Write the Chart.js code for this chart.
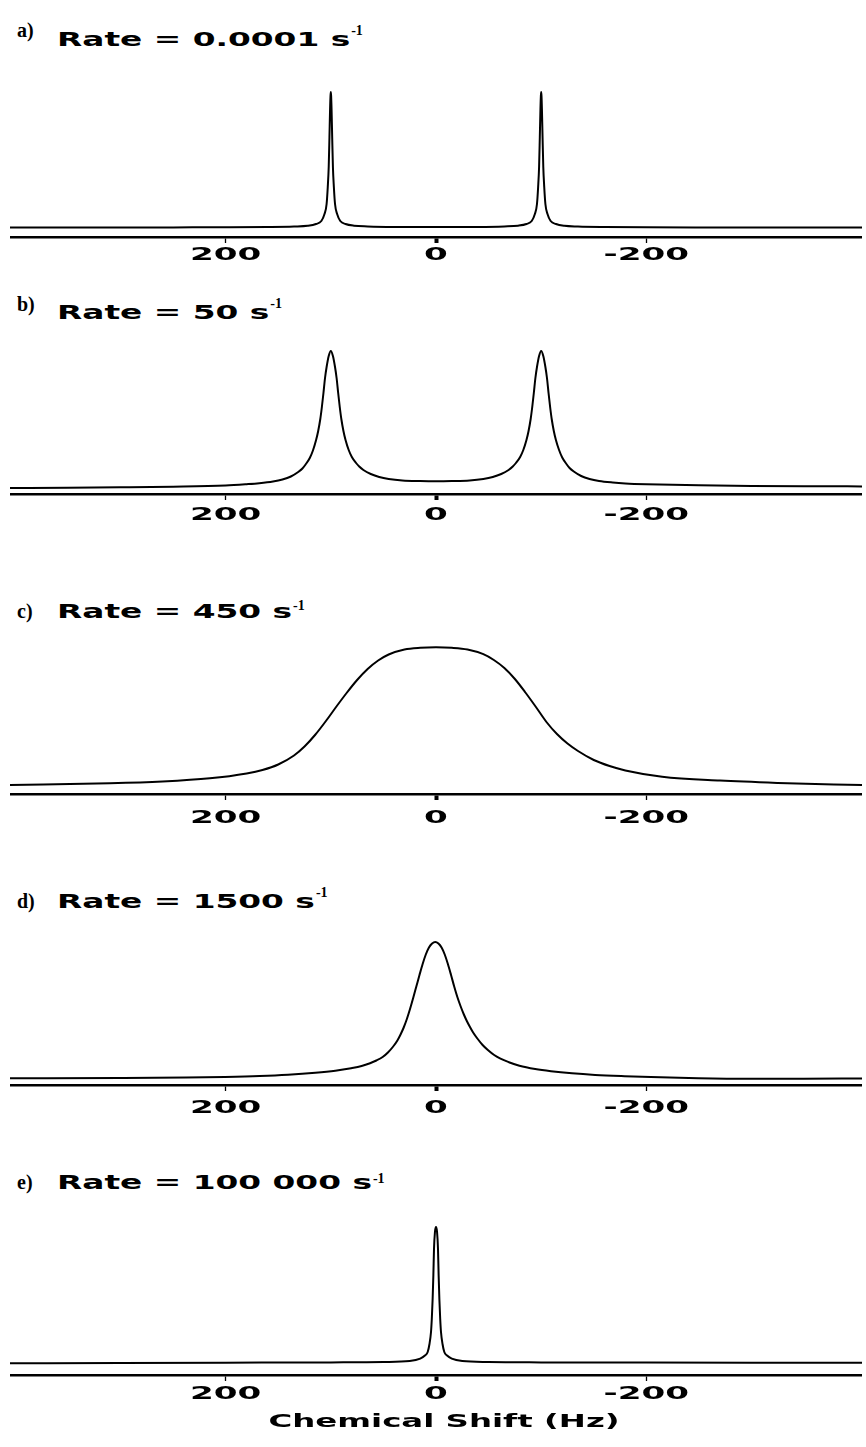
<!DOCTYPE html>
<html><head><meta charset="utf-8">
<script src="https://cdn.jsdelivr.net/npm/chart.js@4.4.1/dist/chart.umd.min.js"></script>
<style>
html,body{margin:0;padding:0;background:#fff;}
#page{position:relative;width:866px;height:1447px;overflow:hidden;background:#fff;}
canvas{position:absolute;}
.t{position:absolute;white-space:nowrap;color:#000;line-height:1;top:0;}
.letter{font-family:"Liberation Serif",serif;font-size:20px;font-weight:bold;}
.rate{font-family:"DejaVu Sans",sans-serif;font-size:20px;font-weight:bold;transform-origin:0 0;}
.sup{font-family:"Liberation Serif",serif;font-size:14px;font-weight:bold;}
</style></head><body><div id="page"></div>
<script>
// ---------- data ----------
const tickValues = [200, 0, -200];
const tickLabels = ['200', '0', '-200'];
const panelLetters = ['a)', 'b)', 'c)', 'd)', 'e)'];
const rateLabels = ['Rate = 0.0001 s', 'Rate = 50 s', 'Rate = 450 s', 'Rate = 1500 s', 'Rate = 100 000 s'];
const rateExponent = '-1';
const axisTitle = 'Chemical Shift (Hz)';

const shiftA = [405, 350, 300, 250, 200, 160, 135, 122, 114, 109, 106, 104, 102.9, 102, 101.3, 100.7, 100.3, 100, 99.7, 99.3, 98.7, 98, 97.1, 96, 94, 91, 86, 78, 65, 40, 0, -40, -65, -78, -86, -91, -94, -96, -97.1, -98, -98.7, -99.3, -99.7, -100, -100.3, -100.7, -101.3, -102, -102.9, -104, -106, -109, -114, -122, -135, -160, -200, -250, -300, -350, -405];
const signalA = [9.5, 9.5, 9.5, 9.6, 9.7, 10, 10.5, 11.2, 13, 16, 23, 33, 50, 70, 100, 128, 141, 145, 141, 128, 100, 70, 50, 33, 23, 16, 13, 11.3, 10.6, 10.1, 10, 10.1, 10.6, 11.3, 13, 16, 23, 33, 50, 70, 100, 128, 141, 145, 141, 128, 100, 70, 50, 33, 23, 16, 13, 11.2, 10.5, 10, 9.7, 9.6, 9.5, 9.5, 9.5];

const shiftB = [405, 350, 300, 250, 200, 180, 168, 155, 146, 138, 131, 127, 124, 120, 117, 114, 112, 110, 108.5, 107, 105.5, 104, 102, 100, 98, 96, 94.5, 93, 91.5, 90, 88, 86, 83, 80, 76, 73, 69, 62, 54, 45, 32, 15, 0, -15, -32, -45, -54, -62, -69, -73, -76, -80, -83, -86, -88, -90, -91.5, -93, -94.5, -96, -98, -100, -102, -104, -105.5, -107, -108.5, -110, -112, -114, -117, -120, -124, -127, -131, -138, -146, -155, -168, -180, -200, -250, -300, -350, -405];
const signalB = [6, 6.3, 6.7, 7.3, 8.5, 9.8, 10.8, 12.5, 14.5, 17.5, 22, 25.5, 29.5, 36, 43.5, 54, 63, 75, 87, 101, 116, 127, 138, 143, 138, 127, 116, 101, 87, 75, 63, 54, 44, 37, 31, 27.5, 24, 20, 17, 15, 13.5, 12.9, 12.7, 12.9, 13.5, 15, 17, 20, 24, 27.5, 31, 37, 44, 54, 63, 75, 87, 101, 116, 127, 138, 143, 138, 127, 116, 101, 87, 75, 63, 54, 44, 36.5, 30, 26, 22.5, 18, 15, 13, 11.5, 10.6, 9.8, 8.7, 8.1, 7.8, 7.6];

const shiftC = [405, 310, 260, 215, 180, 165, 150, 135, 125, 115, 105, 95, 85, 75, 65, 55, 45, 30, 15, 0, -15, -30, -45, -55, -65, -75, -85, -95, -105, -115, -125, -135, -150, -165, -180, -215, -270, -325, -405];
const signalC = [9.1, 10.7, 12.5, 15.7, 20.6, 24, 29.5, 38.5, 47.5, 59, 72.5, 87, 101, 114, 125, 133.5, 139.5, 144.5, 146.2, 146.7, 146.2, 144.5, 139.8, 134, 126, 115, 101.5, 87, 72, 60, 50.5, 43, 34, 28, 23.6, 17.3, 13.4, 11.1, 8.9];

const shiftD = [405, 300, 237.7, 200.7, 167.7, 140.7, 114.7, 95.7, 80.7, 70.7, 62.7, 56.7, 50.7, 45.7, 40.7, 36.7, 33.7, 30.7, 27.7, 24.7, 21.7, 18.7, 15.7, 12.7, 9.7, 6.7, 3.7, 0.7, -2.3, -5.3, -8.3, -11.3, -14.3, -17.3, -20.3, -23.3, -26.3, -29.3, -32.3, -35.3, -39.3, -44.3, -49.3, -55.3, -61.3, -69.3, -79.3, -94.3, -109.3, -129.3, -151.3, -179.3, -204.3, -249.3, -299.3, -349.3, -405];
const signalD = [6.8, 7, 7.4, 8, 8.9, 10.2, 12.2, 14.3, 16.8, 19, 21.8, 24.5, 28, 32.5, 38.5, 44.5, 50.5, 57.5, 66, 76, 87, 98.5, 110, 121, 130.5, 137.5, 141.5, 143, 141.5, 137.5, 130.5, 121, 110, 98.5, 88, 79, 71, 64, 58, 52.5, 46.5, 40, 35, 30, 26.3, 22.8, 19.3, 16, 13.8, 11.7, 10.1, 8.8, 7.9, 6.8, 6.3, 6.3, 6.6];

const shiftE = [405, 300, 200, 100, 50, 25, 15, 10.5, 7.9, 6.2, 4.75, 4, 3.2, 2.5, 1.9, 1, 0, -1, -1.9, -2.5, -3.2, -4, -4.75, -6.2, -7.9, -10.5, -15, -25, -50, -100, -200, -300, -405];
const signalE = [11.7, 12, 12.3, 12.6, 13, 14, 16.4, 19.5, 23, 31, 43, 56, 76, 100, 126, 143, 148, 143, 126, 100, 76, 56, 43, 31, 23, 19.5, 16.4, 14, 13, 12.6, 12.4, 12.3, 12.3];

// ---------- layout (positions / styles) ----------
const L = {
  left: 10, width: 852, plotH: 160,
  axisY: [237, 494, 794, 1085, 1375],
  scaleH: [50, 50, 50, 50, 75],
  labelBase: [22.5, 25.5, 29, 27.5, 24],
  titleBase: [46, 319, 618, 908, 1189],
  letterBase: [37, 311, 618, 908, 1189],
  supBase: [35, 308, 610, 897, 1183],
  letterX: 17, rateX: 57, rateStretch: 1.64,
  tickFont: 'bold 18px "DejaVu Sans"', tickStretch: 1.9,
  axisTitleFont: 'bold 18px "DejaVu Sans"', axisTitleStretch: 1.8, axisTitleBase: 52, axisTitleShift: 8
};

const page = document.getElementById('page');

function placeText(cls, text, x, baseY, stretch) {
  const el = document.createElement('span');
  el.className = 't ' + cls;
  el.textContent = text;
  el.style.left = x + 'px';
  page.appendChild(el);
  const m = document.createElement('span');
  m.style.display = 'inline-block'; m.style.width = '0'; m.style.height = '0'; m.style.verticalAlign = 'baseline';
  el.appendChild(m);
  const b = m.offsetTop;
  el.style.top = (baseY - b) + 'px';
  if (stretch) el.style.transform = 'scaleX(' + stretch + ')';
  return el;
}

const stretchLabels = {
  id: 'stretchLabels',
  afterDraw(chart, args, opts) {
    const sc = chart.scales.x, ctx = chart.ctx;
    ctx.save();
    ctx.fillStyle = '#000';
    ctx.textAlign = 'center';
    ctx.textBaseline = 'alphabetic';
    ctx.font = opts.font;
    sc.ticks.forEach(t => {
      const x = sc.getPixelForValue(t.value);
      ctx.save();
      ctx.translate(x, sc.top + opts.offset);
      ctx.scale(opts.stretch, 1);
      ctx.fillText(t.label, 0, 0);
      ctx.restore();
    });
    if (opts.title) {
      const cx = (chart.chartArea.left + chart.chartArea.right) / 2 + opts.titleShift;
      ctx.save();
      ctx.font = opts.titleFont;
      ctx.translate(cx, sc.top + opts.titleOffset);
      ctx.scale(opts.titleStretch, 1);
      ctx.fillText(opts.title, 0, 0);
      ctx.restore();
    }
    ctx.restore();
  }
};

const panels = [
  { shift: shiftA, signal: signalA },
  { shift: shiftB, signal: signalB },
  { shift: shiftC, signal: signalC },
  { shift: shiftD, signal: signalD },
  { shift: shiftE, signal: signalE }
];

panels.forEach((p, i) => {
  placeText('letter', panelLetters[i], L.letterX, L.letterBase[i]);
  const r = placeText('rate', rateLabels[i], L.rateX, L.titleBase[i], L.rateStretch);
  const rr = r.getBoundingClientRect();
  placeText('sup', rateExponent, rr.right + 1, L.supBase[i]);

  const cv = document.createElement('canvas');
  const H = L.plotH + L.scaleH[i];
  cv.width = L.width; cv.height = H;
  cv.style.width = L.width + 'px'; cv.style.height = H + 'px';
  cv.style.left = L.left + 'px';
  cv.style.top = (L.axisY[i] - L.plotH) + 'px';
  page.appendChild(cv);

  new Chart(cv, {
    type: 'line',
    data: {
      datasets: [{
        data: p.shift.map((x, j) => ({ x: x, y: p.signal[j] })),
        borderColor: '#000', borderWidth: 2, pointRadius: 0, fill: false,
        cubicInterpolationMode: 'monotone'
      }]
    },
    options: {
      responsive: false, animation: false, devicePixelRatio: 1,
      layout: { padding: 0 },
      plugins: {
        legend: { display: false }, tooltip: { enabled: false },
        stretchLabels: {
          font: L.tickFont, stretch: L.tickStretch, offset: L.labelBase[i],
          title: i === 4 ? axisTitle : null, titleFont: L.axisTitleFont,
          titleStretch: L.axisTitleStretch, titleOffset: L.axisTitleBase, titleShift: L.axisTitleShift
        }
      },
      scales: {
        x: {
          type: 'linear', reverse: true, min: -405, max: 405,
          afterBuildTicks: s => { s.ticks = tickValues.map(v => ({ value: v })); },
          afterFit: s => { s.height = L.scaleH[i]; },
          ticks: { display: false, callback: (v, idx) => tickLabels[idx] },
          grid: {
            drawOnChartArea: false, drawTicks: true, tickLength: 6, tickColor: '#000',
            tickWidth: c => (c.tick && c.tick.value === 0) ? 4 : 1.3
          },
          border: { display: true, color: '#000', width: 2.5 }
        },
        y: { display: false, min: 0, max: 160 }
      }
    },
    plugins: [stretchLabels]
  });
});
</script></body></html>
